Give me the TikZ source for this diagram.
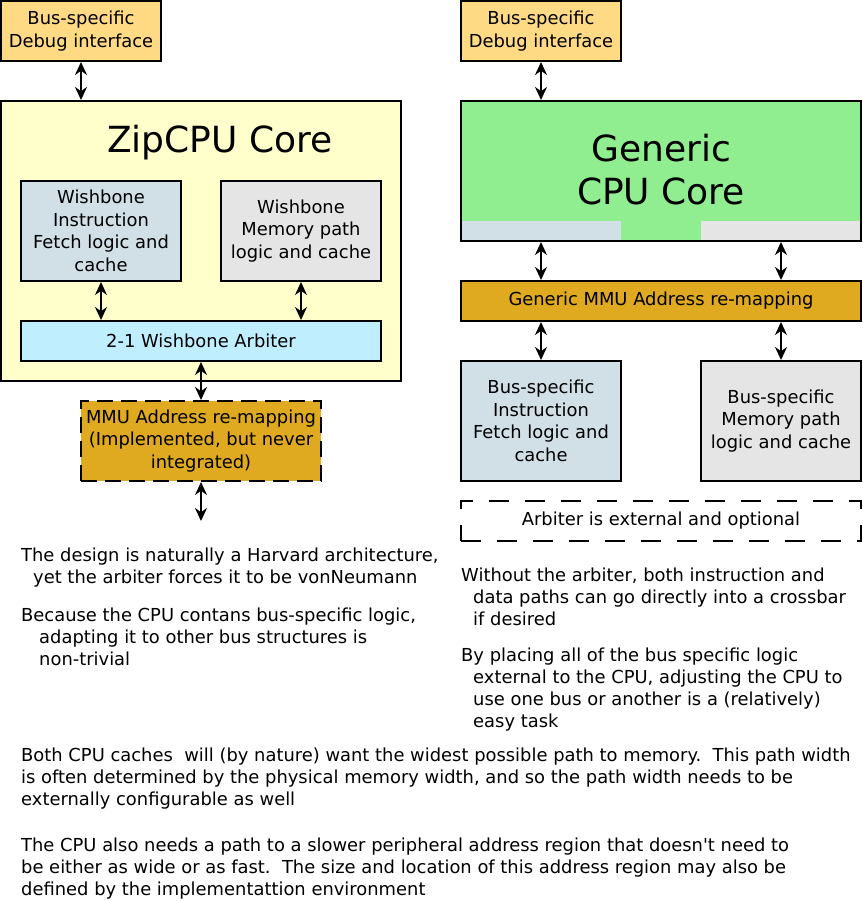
\documentclass[tikz,border=0pt]{standalone}
\usepackage{fontspec}
\setmainfont{DejaVu Sans}[Ligatures=TeXOff]
\usepackage{tikz}
\usetikzlibrary{arrows.meta}

\definecolor{dbgfill}{HTML}{FFDA85}
\definecolor{zipfill}{HTML}{FFFFCC}
\definecolor{ifill}{HTML}{D0E0E6}
\definecolor{mfill}{HTML}{E5E5E5}
\definecolor{arbfill}{HTML}{BFEEFF}
\definecolor{mmufill}{HTML}{E0AA20}
\definecolor{genfill}{HTML}{90EE90}

\begin{document}
\begin{tikzpicture}[x=1pt, y=-1pt,
    blk/.style={draw, line width=2pt, align=center, inner sep=0pt, font=\fontsize{17.9}{22.5}\selectfont},
    link/.style={{Stealth[length=13pt,width=12pt]}-{Stealth[length=13pt,width=12pt]}, line width=2pt},
    note/.style={anchor=north west, align=left, inner sep=0pt, font=\fontsize{17.9}{22}\selectfont}]
    \useasboundingbox (0,0) rectangle (862,901);

    % ZipCPU side
    \node[blk, fill=dbgfill, minimum width=160, minimum height=60] (dbgL) at (81,31) {Bus-specific\\Debug interface};
    \node[blk, fill=zipfill, minimum width=400, minimum height=280] (zip) at (201,241) {};
    \node[anchor=base, inner sep=0pt, font=\fontsize{36}{43}\selectfont] (ziptitle) at (220,153) {ZipCPU Core};
    \node[blk, fill=ifill, minimum width=160, minimum height=100] (wbi) at (101,231) {Wishbone\\Instruction\\Fetch logic and\\cache};
    \node[blk, fill=mfill, minimum width=160, minimum height=100] (wbm) at (301,231) {Wishbone\\Memory path\\logic and cache};
    \node[blk, fill=arbfill, minimum width=360, minimum height=40] (arb) at (201,341) {2-1 Wishbone Arbiter};
    \node[blk, fill=mmufill, dash pattern=on 16pt off 8pt, minimum width=240, minimum height=80] (mmuL) at (201,441) {MMU Address re-mapping\\(Implemented, but never\\integrated)};
    \coordinate (mmuout) at (201,521);

    \draw[link] (dbgL.south) -- (dbgL.south |- zip.north);
    \draw[link] (wbi.south) -- (wbi.south |- arb.north);
    \draw[link] (wbm.south) -- (wbm.south |- arb.north);
    \draw[link] (arb.south) -- (mmuL.north);
    \draw[link] (mmuL.south) -- (mmuout);

    \node[note] (harvnote) at (21,548) {The design is naturally a Harvard architecture,\\\hspace*{12pt}yet the arbiter forces it to be vonNeumann};
    \node[note] (busnote) at (21,608) {Because the CPU contans bus-specific logic,\\\hspace*{18pt}adapting it to other bus structures is\\\hspace*{18pt}non-trivial};

    % Generic side
    \node[blk, fill=dbgfill, minimum width=160, minimum height=60] (dbgR) at (541,31) {Bus-specific\\Debug interface};
    \node[blk, fill=genfill, minimum width=400, minimum height=140,
        path picture={
            \fill[ifill] (path picture bounding box.south west) rectangle ++(160,-20);
            \fill[mfill] (path picture bounding box.south east) rectangle ++(-160,-20);
        }] (gen) at (661,171) {};
    \node[align=center, inner sep=0pt, font=\fontsize{36}{43}\selectfont] (gentitle) at (661,170) {Generic\\CPU Core};
    \node[blk, fill=mmufill, minimum width=400, minimum height=40] (mmuR) at (661,301) {Generic MMU Address re-mapping};
    \node[blk, fill=ifill, minimum width=160, minimum height=120] (bsi) at (541,421) {Bus-specific\\Instruction\\Fetch logic and\\cache};
    \node[blk, fill=mfill, minimum width=160, minimum height=120] (bsm) at (781,421) {Bus-specific\\Memory path\\logic and cache};
    \node[blk, dash pattern=on 20pt off 16pt, minimum width=400, minimum height=40] (arbR) at (661,521) {Arbiter is external and optional};

    \draw[link] (dbgR.south) -- (dbgR.south |- gen.north);
    \draw[link] (gen.south -| bsi) -- (mmuR.north -| bsi);
    \draw[link] (gen.south -| bsm) -- (mmuR.north -| bsm);
    \draw[link] (mmuR.south -| bsi) -- (bsi.north);
    \draw[link] (mmuR.south -| bsm) -- (bsm.north);

    \node[note] (xbarnote) at (461,568) {Without the arbiter, both instruction and\\\hspace*{12pt}data paths can go directly into a crossbar\\\hspace*{12pt}if desired};
    \node[note] (easynote) at (461,648) {By placing all of the bus specific logic\\\hspace*{12pt}external to the CPU, adjusting the CPU to\\\hspace*{12pt}use one bus or another is a (relatively)\\\hspace*{12pt}easy task};

    % bottom remarks
    \node[note] (widthnote) at (21,748) {Both CPU caches\ \ will (by nature) want the widest possible path to memory.\ \ This path width\\is often determined by the physical memory width, and so the path width needs to be\\externally configurable as well};
    \node[note] (perinote) at (21,838) {The CPU also needs a path to a slower peripheral address region that doesn't need to\\be either as wide or as fast.\ \ The size and location of this address region may also be\\defined by the implementattion environment};
\end{tikzpicture}
\end{document}
